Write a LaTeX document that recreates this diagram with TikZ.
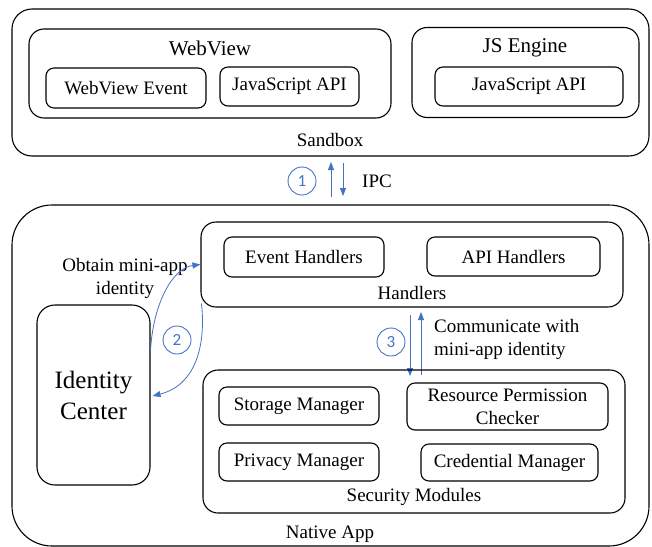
\documentclass[tikz,border=0pt]{standalone}
\usepackage{fontspec}
\setmainfont{Liberation Serif}
\newfontfamily\numfont{Carlito}
\usetikzlibrary{arrows.meta}
\definecolor{ablue}{HTML}{4472C4}
\tikzset{
  box/.style={draw=black, line width=1.1pt, inner sep=0pt, align=center,
    font=\fontsize{19}{22}\selectfont},
  lbl/.style={inner sep=0pt, align=center, font=\fontsize{19}{23}\selectfont},
  ttl/.style={inner sep=0pt, font=\fontsize{21}{24}\selectfont},
  num/.style={draw=ablue, text=ablue, circle, line width=0.9pt, minimum size=28pt,
    inner sep=0pt, font=\numfont\fontsize{17}{20}\selectfont},
  barrow/.style={draw=ablue, line width=0.8pt, -{Triangle[length=8pt,width=6pt]}},
}
\begin{document}
\begin{tikzpicture}[x=1pt,y=-1pt]
\useasboundingbox (0,0) rectangle (652,546);
% Sandbox group
\node[box, rounded corners=20pt, minimum width=637pt, minimum height=147pt] (sandbox) at (330.5,82.5) {};
\node[lbl] (sandboxl) at (330,140) {Sandbox};
\node[box, rounded corners=15pt, minimum width=362pt, minimum height=89pt] (webview) at (210,73.5) {};
\node[ttl] (webviewl) at (210,48) {WebView};
\node[box, rounded corners=8pt, minimum width=160pt, minimum height=40pt] (wve) at (126,88) {WebView Event};
\node[box, rounded corners=8pt, minimum width=139pt, minimum height=39pt] (jsapi1) at (289.5,86.5) {JavaScript API};
\node[box, rounded corners=15pt, minimum width=227pt, minimum height=90pt] (jseng) at (525.5,72.5) {};
\node[ttl] (jsengl) at (525,48) {JS Engine};
\node[box, rounded corners=8pt, minimum width=188pt, minimum height=39pt] (jsapi2) at (529,86.5) {JavaScript API};
% IPC
\node[num] (n1) at (302,181) {1};
\coordinate (ipcupS) at (331,197);
\coordinate (ipcupE) at (331,162);
\coordinate (ipcdnS) at (343,163);
\coordinate (ipcdnE) at (343,196);
\draw[barrow] (ipcupS) -- (ipcupE);
\draw[barrow] (ipcdnS) -- (ipcdnE);
\node[lbl, anchor=west] (ipc) at (362,181) {IPC};
% Native App
\node[box, rounded corners=40pt, minimum width=637pt, minimum height=341pt] (native) at (330.5,375.5) {};
\node[lbl] (nativel) at (330,534) {Native App};
% Handlers
\node[box, rounded corners=15pt, minimum width=422pt, minimum height=85pt] (handlers) at (412,264.5) {};
\node[lbl] (handlersl) at (412,293) {Handlers};
\node[box, rounded corners=8pt, minimum width=160pt, minimum height=40pt] (eh) at (304,257) {Event Handlers};
\node[box, rounded corners=8pt, minimum width=173pt, minimum height=39pt] (ah) at (513.5,256.5) {API Handlers};
% Identity center
\node[box, rounded corners=18pt, minimum width=113pt, minimum height=180pt,
  font=\fontsize{25}{31}\selectfont] (idc) at (93.5,395) {Identity\\Center};
\node[lbl] (obtain) at (125,278) {Obtain mini-app\\identity};
\node[num] (n2) at (177,340) {2};
\draw[barrow] ([yshift=45pt]idc.east) .. controls (153,305) and (172,268) .. (handlers.west);
\draw[barrow] ([xshift=1pt,yshift=-39pt]handlers.west) .. controls (206,345) and (196,385) .. ([xshift=2pt,yshift=-1pt]idc.east);
% 3
\node[num] (n3) at (391,342) {3};
\coordinate (c3dS) at (410,315);
\coordinate (c3dE) at (410,376);
\coordinate (c3uS) at (421,375);
\coordinate (c3uE) at (421,312);
\draw[barrow] (c3dS) -- (c3dE);
\draw[barrow] (c3uS) -- (c3uE);
\node[lbl, anchor=west, align=left] (comm) at (434,339.5) {Communicate with\\mini-app identity};
% Security modules
\node[box, rounded corners=15pt, minimum width=422pt, minimum height=143pt] (sec) at (414,441.5) {};
\node[lbl] (secl) at (414,497) {Security Modules};
\node[box, rounded corners=8pt, minimum width=160pt, minimum height=38pt] (sto) at (299,406) {Storage Manager};
\node[box, rounded corners=8pt, minimum width=201pt, minimum height=47pt, font=\fontsize{19}{23}\selectfont] (res) at (507.5,406.5) {Resource Permission\\Checker};
\node[box, rounded corners=8pt, minimum width=160pt, minimum height=38pt] (pri) at (299,462) {Privacy Manager};
\node[box, rounded corners=8pt, minimum width=177pt, minimum height=37pt] (cre) at (509.5,462.5) {Credential Manager};
\end{tikzpicture}
\end{document}
